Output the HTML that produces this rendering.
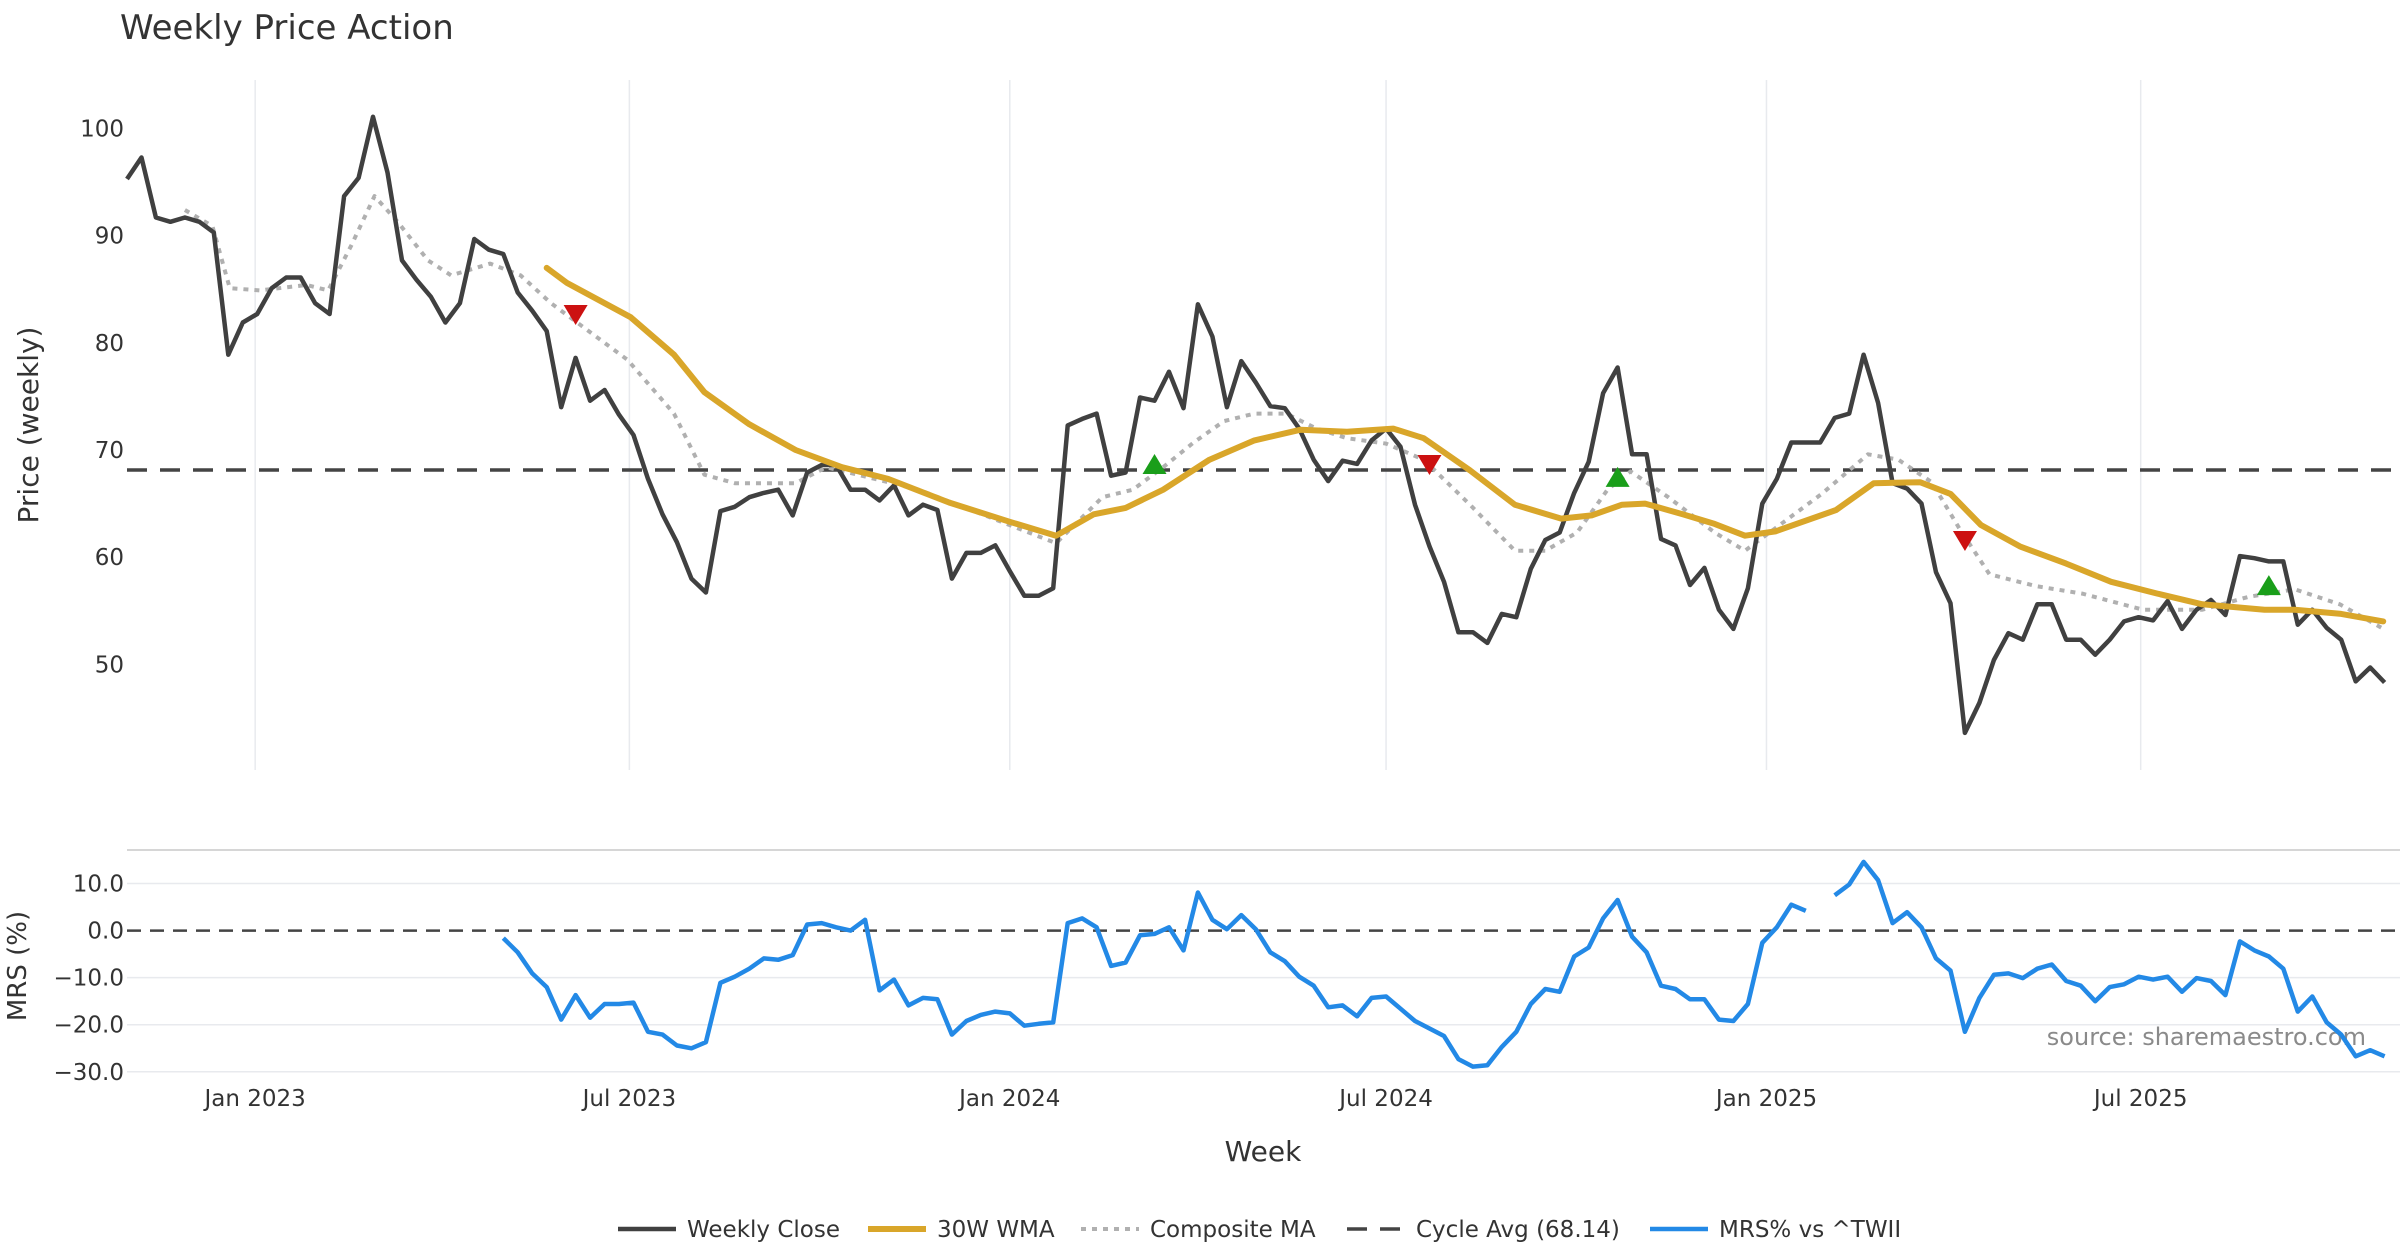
<!DOCTYPE html>
<html><head><meta charset="utf-8"><style>
html,body{margin:0;padding:0;background:#fff;}
svg{display:block;font-family:"DejaVu Sans","Liberation Sans",sans-serif;}
</style></head><body>
<svg id="chart" width="2400" height="1260" viewBox="0 0 2400 1260" xmlns="http://www.w3.org/2000/svg">
<text x="120" y="39" font-size="34" fill="#333">Weekly Price Action</text>
<text transform="translate(38,425) rotate(-90)" text-anchor="middle" font-size="28" fill="#333">Price (weekly)</text>
<text transform="translate(26,966) rotate(-90)" text-anchor="middle" font-size="26" fill="#333">MRS (%)</text>
<text x="1263" y="1161" text-anchor="middle" font-size="28" fill="#333">Week</text>
<text x="2366" y="1045" text-anchor="end" font-size="24" fill="#8a8a8a">source: sharemaestro.com</text>
<g id="grid"></g><g id="series"></g><g id="axes"></g>
<g id="legend"></g>
</svg>
<script>
const closeValues=[95.3,97.3,91.7,91.3,91.7,91.3,90.3,78.9,81.9,82.7,85.1,86.1,86.1,83.7,82.7,93.7,95.4,101.1,95.9,87.7,85.9,84.3,81.9,83.7,89.7,88.7,88.3,84.7,83.0,81.1,74.0,78.6,74.6,75.6,73.3,71.4,67.3,64.0,61.4,58.0,56.7,64.3,64.7,65.6,66.0,66.3,63.9,67.9,68.6,68.6,66.3,66.3,65.3,66.7,63.9,64.9,64.4,58.0,60.4,60.4,61.1,58.7,56.4,56.4,57.1,72.3,72.9,73.4,67.6,67.9,74.9,74.6,77.3,73.9,83.6,80.6,74.0,78.3,76.3,74.1,73.9,72.0,69.1,67.1,69.0,68.7,70.9,72.0,70.3,64.9,61.0,57.7,53.0,53.0,52.0,54.7,54.4,58.9,61.6,62.3,66.0,68.9,75.3,77.7,69.6,69.6,61.7,61.1,57.4,59.0,55.1,53.3,57.1,65.0,67.3,70.7,70.7,70.7,73.0,73.4,78.9,74.4,66.9,66.4,65.0,58.6,55.7,43.6,46.4,50.4,52.9,52.3,55.6,55.6,52.3,52.3,50.9,52.3,54.0,54.4,54.1,55.9,53.3,55.1,56.0,54.6,60.1,59.9,59.6,59.6,53.7,55.1,53.4,52.3,48.4,49.7,48.3];
const wmaWeeks=[29,30.4,34.8,37.8,39.9,43,46.2,49.4,52.6,56.8,61,64.2,66.8,69,71.6,74.8,77.9,81.1,84.3,87.5,89.6,92.8,95.9,99.1,101.2,103.3,104.9,107.5,109.7,111.8,113.9,118.1,120.7,123.9,126,128.1,130.8,134,137.1,140.3,143.4,147.7,149.8,153,155.9];
const wmaValues=[87.0,85.6,82.4,78.9,75.4,72.4,70.0,68.4,67.3,65.1,63.3,62.0,64.0,64.6,66.3,69.1,70.9,71.9,71.7,72.0,71.1,68.1,64.9,63.6,63.9,64.9,65.0,64.0,63.1,62.0,62.4,64.4,66.9,67.0,65.9,63.0,61.0,59.4,57.7,56.6,55.6,55.1,55.1,54.7,54.0];
const compWeeks=[4,5.9,7.1,9.2,12.4,13.9,15.5,17.1,18.7,20.8,22.4,25.1,27.2,29.3,31.4,34.6,37.8,39.9,42,46.2,48.3,50.5,54.7,58.9,64.2,67.4,69.5,71.6,73.7,75.8,77.9,80.1,82.2,84.3,87,89.6,92.8,95.9,98,100.2,102.3,103.9,106.5,109.7,111.8,113.9,117.1,120.3,122.4,124.7,126.6,128.7,131.9,135.1,139.3,143.4,146.6,149.8,152.9,155.8];
const compValues=[92.4,90.9,85.1,84.9,85.4,84.9,89.1,93.7,91.3,87.7,86.3,87.4,86.3,83.7,81.6,78.4,73.4,67.7,66.9,66.9,68.4,67.7,66.3,64.1,61.3,65.6,66.3,68.4,70.7,72.7,73.4,73.4,72.0,71.1,70.6,69.1,64.9,60.6,60.6,62.3,66.3,68.0,65.6,62.3,60.6,62.7,65.9,69.6,69.1,67.0,62.7,58.4,57.3,56.6,55.1,55.1,56.3,57.0,55.6,53.4];
const mrsStart=26;
const mrsValues=[-1.6,-4.6,-9.1,-12,-18.9,-13.7,-18.5,-15.6,-15.6,-15.3,-21.5,-22.1,-24.4,-25,-23.7,-11.1,-9.8,-8.1,-5.9,-6.2,-5.2,1.3,1.6,0.7,0,2.3,-12.7,-10.4,-15.9,-14.3,-14.6,-22.1,-19.2,-17.9,-17.2,-17.6,-20.2,-19.8,-19.5,1.6,2.6,0.7,-7.5,-6.8,-1,-0.7,0.7,-4.2,8.1,2.3,0.3,3.3,0.3,-4.6,-6.5,-9.8,-11.7,-16.3,-15.9,-18.2,-14.3,-14,-16.6,-19.2,-20.8,-22.4,-27.3,-28.9,-28.6,-24.7,-21.5,-15.6,-12.4,-13,-5.5,-3.6,2.6,6.5,-1.3,-4.6,-11.7,-12.4,-14.6,-14.6,-18.9,-19.2,-15.6,-2.6,0.7,5.5,4.2,null,7.5,9.8,14.6,10.7,1.6,3.9,0.7,-5.9,-8.5,-21.5,-14.3,-9.4,-9.1,-10.1,-8.1,-7.2,-10.7,-11.7,-15,-12,-11.4,-9.8,-10.4,-9.8,-13,-10.1,-10.7,-13.7,-2.3,-4.2,-5.5,-8.1,-17.2,-14,-19.5,-22.1,-26.7,-25.4,-26.7];
const cycleAvg=68.14;
const signalWeeks=[31,71,90,103,127,148];
const signalValues=[82.7,68.6,68.7,67.4,61.6,57.3];
const signalTypes=['sell','buy','sell','buy','sell','buy'];
const priceTicks=[50,60,70,80,90,100];
const mrsTicks=[10,0,-10,-20,-30];
const mrsTickLabels=['10.0','0.0','\u221210.0','\u221220.0','\u221230.0'];
const xTickLabels=['Jan 2023','Jul 2023','Jan 2024','Jul 2024','Jan 2025','Jul 2025'];
const xTickDates=['2023-01-01','2023-07-01','2024-01-01','2024-07-01','2025-01-01','2025-07-01'];
const startDate='2022-10-31';

const NS='http://www.w3.org/2000/svg';
const X0=127, STEP=14.472, RIGHT=2400;
const xw=i=>X0+i*STEP;
const xd=d=>xw((Date.parse(d)-Date.parse(startDate))/(7*864e5));
const yp=v=>128.6+(100-v)*10.714;
const ym=v=>930.6-v*4.707;
function mk(tag,attrs,parent){const e=document.createElementNS(NS,tag);for(const k in attrs)e.setAttribute(k,attrs[k]);parent.appendChild(e);return e;}
const gridG=document.getElementById('grid'),serG=document.getElementById('series'),axG=document.getElementById('axes'),legG=document.getElementById('legend');

xTickDates.forEach((d,k)=>{
  const x=xd(d);
  const g=mk('line',{x1:x,x2:x,y1:80,y2:770,stroke:'#e8eaee','stroke-width':1.5},gridG);
  
  
  const t=mk('text',{x:x,y:1106,'text-anchor':'middle','font-size':23,fill:'#333'},axG);
  t.textContent=xTickLabels[k];
  
  
});
priceTicks.forEach(v=>{
  const t=mk('text',{x:124,y:yp(v)+8,'text-anchor':'end','font-size':23,fill:'#333'},axG);
  t.textContent=v;
  
  
});
const mrsTopBorder=mk('line',{x1:127,x2:RIGHT,y1:850,y2:850,stroke:'#c8c8c8','stroke-width':1.5},gridG);


mrsTicks.forEach((v,k)=>{
  if(v!==0){const g=mk('line',{x1:127,x2:RIGHT,y1:ym(v),y2:ym(v),stroke:'#e8eaee','stroke-width':1.5},gridG);
  
  }
  const t=mk('text',{x:124,y:ym(v)+8,'text-anchor':'end','font-size':23,fill:'#333'},axG);
  t.textContent=mrsTickLabels[k];
  
  
});
const zl=mk('line',{x1:127,x2:RIGHT,y1:ym(0),y2:ym(0),stroke:'#444','stroke-width':2.5,'stroke-dasharray':'14 9'},serG);


const cl=mk('line',{x1:127,x2:RIGHT,y1:yp(cycleAvg),y2:yp(cycleAvg),stroke:'#444','stroke-width':3.5,'stroke-dasharray':'20 13'},serG);



function poly(xs,ys,yf,attrs,name){
  let d='',pen=false;
  for(let i=0;i<xs.length;i++){
    if(ys[i]===null||ys[i]===undefined){pen=false;continue;}
    d+=(pen?'L':'M')+xw(xs[i]).toFixed(1)+','+yf(ys[i]).toFixed(1);pen=true;
  }
  const p=mk('path',Object.assign({d:d,fill:'none','stroke-linejoin':'round'},attrs),serG);
  
  
}
poly(compWeeks,compValues,yp,{stroke:'#b0b0b0','stroke-width':4,'stroke-dasharray':'5 6'},'composite-ma-line');
poly(closeValues.map((_,i)=>i),closeValues,yp,{stroke:'#404040','stroke-width':4.5},'weekly-close-line');
poly(wmaWeeks,wmaValues,yp,{stroke:'#d9a62a','stroke-width':6,'stroke-linecap':'round'},'wma-30w-line');
poly(mrsValues.map((_,i)=>i+mrsStart),mrsValues,ym,{stroke:'#2389e6','stroke-width':4.5},'mrs-line');

signalWeeks.forEach((w,k)=>{
  const x=xw(w),y=yp(signalValues[k]),s=12;
  const pts=signalTypes[k]==='sell'?`${x-s},${y-9} ${x+s},${y-9} ${x},${y+11}`:`${x-s},${y+9} ${x+s},${y+9} ${x},${y-11}`;
  const t=mk('polygon',{points:pts,fill:signalTypes[k]==='sell'?'#cc1111':'#1a9e1a'},serG);
  
  
});

const legendItems=[
 {x:618,label:'Weekly Close',stroke:'#404040',w:4.5,dash:''},
 {x:868,label:'30W WMA',stroke:'#d9a62a',w:6,dash:''},
 {x:1081,label:'Composite MA',stroke:'#b0b0b0',w:4,dash:'5 6'},
 {x:1347,label:'Cycle Avg (68.14)',stroke:'#444',w:3.5,dash:'20 13'},
 {x:1650,label:'MRS% vs ^TWII',stroke:'#2389e6',w:4.5,dash:''}
];
legendItems.forEach(it=>{
  const g=mk('g',{},legG);
  
  
  mk('line',{x1:it.x,x2:it.x+58,y1:1229,y2:1229,stroke:it.stroke,'stroke-width':it.w,'stroke-dasharray':it.dash},g);
  const t=mk('text',{x:it.x+69,y:1237,'font-size':23,fill:'#333'},g);
  t.textContent=it.label;
});
</script>
</body></html>
